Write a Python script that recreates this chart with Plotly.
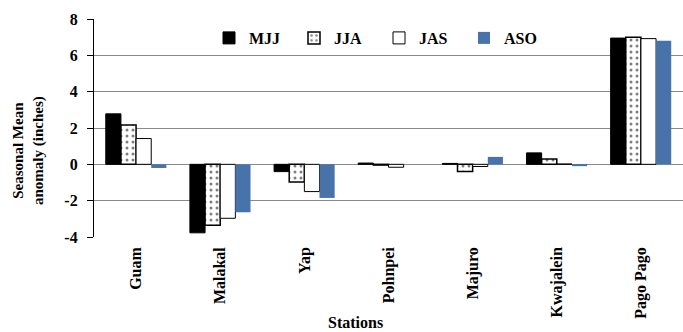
import plotly.graph_objects as go

stations = ["Guam", "Malakal", "Yap", "Pohnpei", "Majuro", "Kwajalein", "Pago Pago"]
mjj = [2.78, -3.77, -0.4, 0.07, 0.05, 0.63, 6.95]
jja = [2.17, -3.36, -0.97, -0.04, -0.4, 0.3, 7.0]
jas = [1.42, -2.97, -1.5, -0.16, -0.12, 0.02, 6.92]
aso = [-0.2, -2.64, -1.85, 0.0, 0.41, -0.1, 6.8]
y_ticks = [8, 6, 4, 2, 0, -2, -4]
y_tick_text = ["8", "6", "4", "2", "0", "-2", "-4"]

FONT = "Times New Roman, Liberation Serif, serif"
W, H = 683, 332
ML, MR, MT, MB = 94, 0, 19, 95
pw = W - ML - MR
ph = H - MT - MB


def px_x(px):
    return (px - ML) / pw


def px_y(py):
    return 1 - (py - MT) / ph


fig = go.Figure()
fig.add_trace(go.Bar(name="MJJ", x=stations, y=mjj,
                     marker=dict(color="black", line=dict(color="black", width=1))))
fig.add_trace(go.Bar(name="JJA", x=stations, y=jja,
                     marker=dict(color="white",
                                 pattern=dict(shape=".", fgcolor="black", bgcolor="white",
                                              size=6, solidity=0.2),
                                 line=dict(color="black", width=1.5))))
fig.add_trace(go.Bar(name="JAS", x=stations, y=jas,
                     marker=dict(color="white", line=dict(color="black", width=1))))
fig.add_trace(go.Bar(name="ASO", x=stations, y=aso,
                     marker=dict(color="#4773aa", line=dict(color="#4773aa", width=0))))

n = len(stations)
fig.update_layout(
    width=W, height=H,
    margin=dict(l=ML, r=MR, t=MT, b=MB, pad=0),
    paper_bgcolor="white", plot_bgcolor="white",
    barmode="group", bargap=0.28, bargroupgap=0,
    font=dict(family=FONT, size=15, color="black", weight="bold"),
    xaxis=dict(type="category", range=[-0.5, n - 0.5], showgrid=False, showline=False,
               ticks="", tickangle=-90, zeroline=False, ticklabelstandoff=6,
               tickfont=dict(family=FONT, size=16, weight="bold")),
    xaxis2=dict(overlaying="x", anchor="free", position=4 / 12, side="bottom",
                range=[-0.5, n - 0.5], tickvals=[i + 0.5 for i in range(n - 1)],
                ticks="outside", ticklen=5, tickcolor="black", showticklabels=False,
                showline=True, linecolor="black", linewidth=1.2, showgrid=False,
                zeroline=False),
    yaxis=dict(range=[-4, 8], tickvals=y_ticks, ticktext=y_tick_text, showgrid=True,
               gridcolor="#8a8a8a", gridwidth=1, zeroline=False, showline=True,
               linecolor="black", linewidth=1.2, ticks="outside", ticklen=6,
               tickcolor="black", ticklabelstandoff=6,
               tickfont=dict(family=FONT, size=16, weight="bold")),
    legend=dict(orientation="h", x=px_x(209), xanchor="left", y=px_y(38), yanchor="middle",
                entrywidth=40, entrywidthmode="pixels", bgcolor="rgba(0,0,0,0)",
                font=dict(family=FONT, size=16, weight="bold"), traceorder="normal"),
    showlegend=True,
)

fig.add_annotation(text="Seasonal Mean<br>anomaly (inches)", textangle=-90,
                   xref="paper", yref="paper", x=px_x(28), y=px_y(151),
                   xanchor="center", yanchor="middle", showarrow=False,
                   font=dict(family=FONT, size=15, weight="bold"))
fig.add_annotation(text="Stations", xref="paper", yref="paper",
                   x=px_x(355), y=px_y(333), xanchor="center", yanchor="bottom",
                   showarrow=False, font=dict(family=FONT, size=16, weight="bold"))

fig.write_html("out.html", config={"displayModeBar": False},
               post_script="document.body.style.margin='0';")
